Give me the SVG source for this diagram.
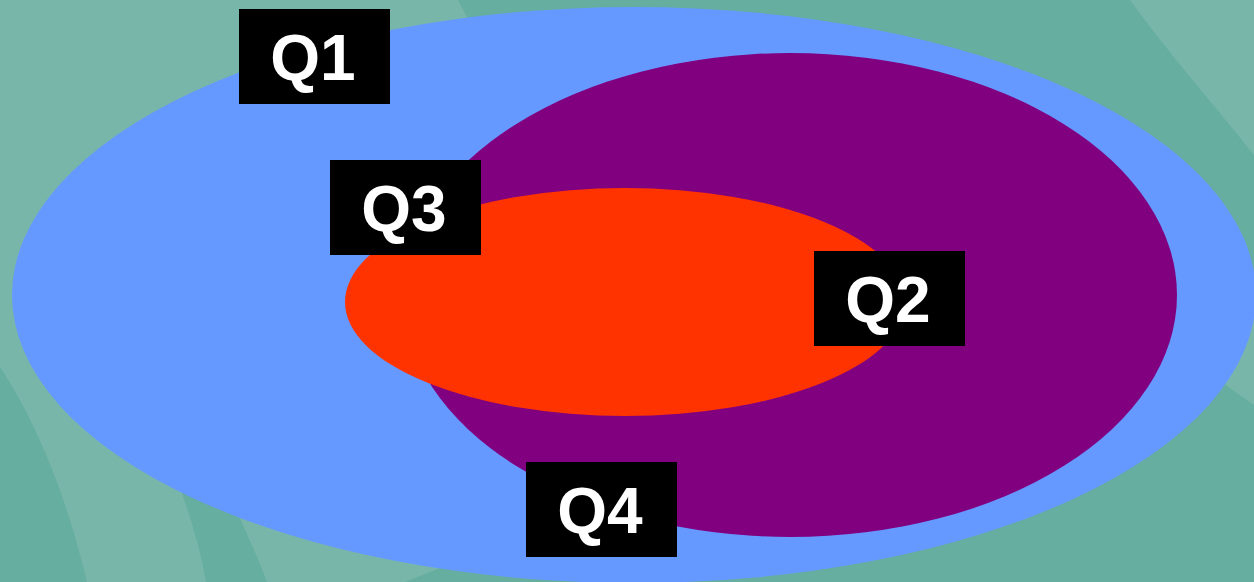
<svg xmlns="http://www.w3.org/2000/svg" width="1254" height="582" viewBox="0 0 1254 582">
<style>
.box{fill:#000}
.lbl{font-family:"Liberation Sans",Arial,sans-serif;font-weight:bold;font-size:64px;fill:#fff;text-anchor:middle}
.lt{fill:#79b6aa}
.dk{fill:#66ae9f}
</style>
<g id="background">
<rect width="1254" height="582" fill="#66ae9f"/>
<path class="lt" d="M0 0 H458 L560 200 L460 560 L405 582 H87 C65 490 35 420 0 367 Z"/>
<path class="dk" d="M170 460 C185 500 200 545 206 582 H267 C255 550 240 520 215 460 Z"/>
<path class="lt" d="M1130 0 H1254 V155 C1210 100 1170 55 1130 0 Z"/>
<path class="lt" d="M1254 300 L1190 360 L1254 405 Z"/>
</g>
<g id="q1-ellipse"><ellipse cx="634" cy="295" rx="622" ry="288" fill="#6699ff"/></g>
<g id="q2-ellipse"><ellipse cx="790" cy="295" rx="387" ry="242" fill="#800080"/></g>
<g id="q3-ellipse"><ellipse cx="625" cy="302" rx="280" ry="114" fill="#ff3300"/></g>
<g id="q1"><rect class="box" x="239" y="9" width="151" height="95"/><text class="lbl" x="313" y="80">Q1</text></g>
<g id="q3"><rect class="box" x="330" y="160" width="151" height="95"/><text class="lbl" x="404" y="231">Q3</text></g>
<g id="q2"><rect class="box" x="814" y="251" width="151" height="95"/><text class="lbl" x="888" y="322">Q2</text></g>
<g id="q4"><rect class="box" x="526" y="462" width="151" height="95"/><text class="lbl" x="600" y="533">Q4</text></g>
<g id="connectors"/>
</svg>
